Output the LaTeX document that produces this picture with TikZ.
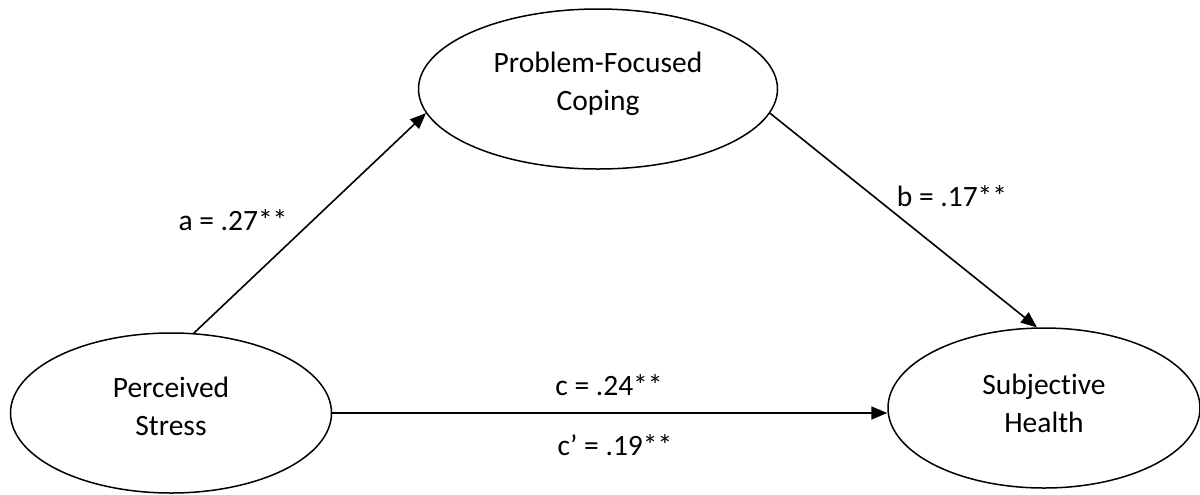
\documentclass[tikz,border=0pt]{standalone}
\usepackage{fontspec}
\setmainfont{Carlito}[Ligatures=NoCommon]
\usetikzlibrary{arrows.meta,shapes.geometric}

\begin{document}
\begin{tikzpicture}[x=0.5pt,y=-0.5pt,
    font=\fontsize{14.75}{19}\selectfont,
    latent/.style={ellipse,draw,line width=0.75pt,inner sep=0pt,
      minimum height=80pt,align=center},
    effect/.style={line width=0.8pt,-{Triangle[length=8pt,width=6.5pt]}},
    coef/.style={inner sep=0pt}]
  \useasboundingbox (0,0) rectangle (1200,494);

  % the three variables
  \node[latent,minimum width=160.5pt,text depth=7pt] (PS) at (171,413) {Perceived\\Stress};
  \node[latent,minimum width=179.5pt,text depth=8pt] (PFC) at (598,89) {Problem-Focused\\Coping};
  \node[latent,minimum width=156pt,text depth=5pt] (SH) at (1044,408) {Subjective\\Health};

  % paths
  \draw[effect] (PS.74) -- (PFC.188);
  \draw[effect] (PFC.-8) -- (SH.95);
  \draw[effect] (PS.east) -- (PS.east -| SH.west);

  % coefficients
  \node[coef] (a) at (233,220) {a = .27**};
  \node[coef] (b) at (952,196) {b = .17**};
  \node[coef] (c) at (609,385) {c = .24**};
  \node[coef] (cp) at (615,445) {c’ = .19**};
\end{tikzpicture}
\end{document}
